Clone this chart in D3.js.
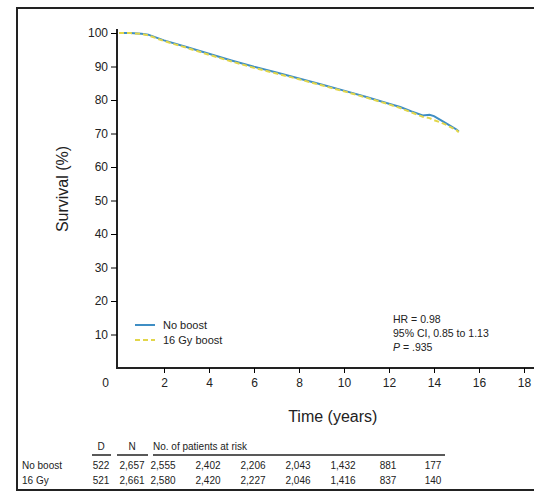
<!DOCTYPE html>
<html>
<head>
<meta charset="utf-8">
<script src="https://cdn.jsdelivr.net/npm/d3@7"></script>
<style>
  body { margin: 0; background: #fff; }
  text { font-family: "Liberation Sans", Arial, sans-serif; fill: #222; }
</style>
</head>
<body>
<svg id="chart" width="534" height="495"></svg>
<script>
// survival estimates (years, %)
const timesNoBoost = [0, 0.5, 1, 1.3, 2, 3, 4, 5, 6, 7, 8, 9, 10, 11, 12, 12.5, 13, 13.5, 13.8, 14, 14.3, 14.6, 15, 15.1];
const survNoBoost  = [100, 100, 99.8, 99.5, 97.8, 95.8, 93.8, 91.8, 89.9, 88.2, 86.4, 84.6, 82.8, 80.9, 78.9, 77.9, 76.6, 75.4, 75.6, 75.2, 74.0, 72.8, 71.2, 70.6];
const timesBoost   = [0, 0.5, 1, 1.3, 2, 3, 4, 5, 6, 7, 8, 9, 10, 11, 12, 12.5, 13, 13.5, 13.8, 14, 14.3, 14.6, 15, 15.1];
const survBoost    = [100, 100, 99.7, 99.3, 97.6, 95.6, 93.5, 91.5, 89.6, 87.9, 86.2, 84.4, 82.6, 80.7, 78.7, 77.6, 76.3, 75.0, 74.6, 74.0, 73.3, 72.4, 71.0, 70.4];

const xTicks = [0, 2, 4, 6, 8, 10, 12, 14, 16, 18];
const yTicks = [10, 20, 30, 40, 50, 60, 70, 80, 90, 100];

const riskTimes = [2, 4, 6, 8, 10, 12, 14];
const riskGroups = ["No boost", "16 Gy"];
const riskD = ["522", "521"];
const riskN = ["2,657", "2,661"];
const riskNoBoost = ["2,555", "2,402", "2,206", "2,043", "1,432", "881", "177"];
const riskBoost   = ["2,580", "2,420", "2,227", "2,046", "1,416", "837", "140"];

const statsLines = ["HR = 0.98", "95% CI, 0.85 to 1.13", ".935"];

const svg = d3.select("#chart");

// outer frame
svg.append("rect")
  .attr("x", 17).attr("y", 8)
  .attr("width", 530).attr("height", 482)
  .attr("fill", "none")
  .attr("stroke", "#222")
  .attr("stroke-width", 2);

const x = d3.scaleLinear().domain([0, 18]).range([119, 524]);
const y = d3.scaleLinear().domain([0, 100]).range([368, 33]);

// axes
const yAxis = svg.append("g")
  .attr("transform", `translate(${x(0) - 2},0)`)
  .call(d3.axisLeft(y).tickValues(yTicks).tickSize(6).tickPadding(3));
yAxis.select(".domain").attr("d", `M0,${y(0)}V${y(100) - 4}`).attr("stroke", "#222").attr("stroke-width", 2);
yAxis.selectAll("text").style("font-size", "12px").attr("fill", "#222");

const xAxis = svg.append("g")
  .attr("transform", `translate(0,${y(0)})`)
  .call(d3.axisBottom(x).tickValues(xTicks).tickSize(5).tickPadding(5));
xAxis.select(".domain").attr("d", `M${x(0) - 3},0H540`).attr("stroke", "#222").attr("stroke-width", 2);
xAxis.selectAll(".tick").filter(d => d === 0).select("line").remove();
xAxis.selectAll(".tick").filter(d => d === 0).select("text").attr("x", -14);
xAxis.selectAll("text").style("font-size", "12px").attr("fill", "#222");

svg.append("text")
  .attr("transform", `translate(62,189) rotate(-90)`)
  .attr("text-anchor", "middle")
  .attr("dy", "0.35em")
  .style("font-size", "16px")
  .text("Survival (%)");

svg.append("text")
  .attr("x", x(9.5)).attr("y", 416)
  .attr("text-anchor", "middle")
  .attr("dy", "0.35em")
  .style("font-size", "16px")
  .text("Time (years)");

// curves
const line = d3.line().x(d => x(d[0])).y(d => y(d[1]));
const noBoost = timesNoBoost.map((t, i) => [t, survNoBoost[i]]);
const boost = timesBoost.map((t, i) => [t, survBoost[i]]);

svg.append("path")
  .datum(noBoost)
  .attr("d", line)
  .attr("fill", "none")
  .attr("stroke", "#3f8ec4")
  .attr("stroke-width", 2);

svg.append("path")
  .datum(boost)
  .attr("d", line)
  .attr("fill", "none")
  .attr("stroke", "#e2d64a")
  .attr("stroke-width", 2)
  .attr("stroke-dasharray", "5,3");

// legend
const legend = svg.append("g").attr("transform", "translate(135,325)");
legend.append("line").attr("x1", 0).attr("x2", 20).attr("y1", 0).attr("y2", 0)
  .attr("stroke", "#3f8ec4").attr("stroke-width", 2);
legend.append("text").attr("x", 28).attr("y", 0).attr("dy", "0.35em")
  .style("font-size", "11px").text("No boost");
legend.append("line").attr("x1", 0).attr("x2", 20).attr("y1", 15).attr("y2", 15)
  .attr("stroke", "#e2d64a").attr("stroke-width", 2).attr("stroke-dasharray", "5,3");
legend.append("text").attr("x", 28).attr("y", 15).attr("dy", "0.35em")
  .style("font-size", "11px").text("16 Gy boost");

// stats
const stats = svg.append("g");
statsLines.forEach((s, i) => {
  const t = stats.append("text")
    .attr("x", 393)
    .attr("y", 319 + i * 14)
    .attr("dy", "0.35em")
    .style("font-size", "10.5px");
  if (i === 2) {
    t.append("tspan").style("font-style", "italic").text("P");
    t.append("tspan").text(" = " + s);
  } else {
    t.text(s);
  }
});

// number at risk table
const table = svg.append("g");
const headY = 446, row1 = 465, row2 = 480;
table.append("text").attr("x", 101).attr("y", headY).attr("dy", "0.35em")
  .attr("text-anchor", "middle").style("font-size", "10px").text("D");
table.append("text").attr("x", 132).attr("y", headY).attr("dy", "0.35em")
  .attr("text-anchor", "middle").style("font-size", "10px").text("N");
table.append("text").attr("x", 153).attr("y", headY).attr("dy", "0.35em")
  .style("font-size", "10px").text("No. of patients at risk");
[[92, 111], [117, 148], [153, 445]].forEach(([a, b]) => {
  table.append("line").attr("x1", a).attr("x2", b).attr("y1", 455).attr("y2", 455)
    .attr("stroke", "#222").attr("stroke-width", 1.5);
});

[[riskNoBoost, row1, 0], [riskBoost, row2, 1]].forEach(([vals, ry, gi]) => {
  table.append("text").attr("x", 22).attr("y", ry).attr("dy", "0.35em")
    .style("font-size", "10px").text(riskGroups[gi]);
  table.append("text").attr("x", 101).attr("y", ry).attr("dy", "0.35em")
    .attr("text-anchor", "middle").style("font-size", "10px").text(riskD[gi]);
  table.append("text").attr("x", 132).attr("y", ry).attr("dy", "0.35em")
    .attr("text-anchor", "middle").style("font-size", "10px").text(riskN[gi]);
  table.selectAll(null)
    .data(vals)
    .join("text")
    .attr("x", (d, i) => x(riskTimes[i]) - 1)
    .attr("y", ry)
    .attr("dy", "0.35em")
    .attr("text-anchor", "middle")
    .style("font-size", "10px")
    .text(d => d);
});
</script>
</body>
</html>
